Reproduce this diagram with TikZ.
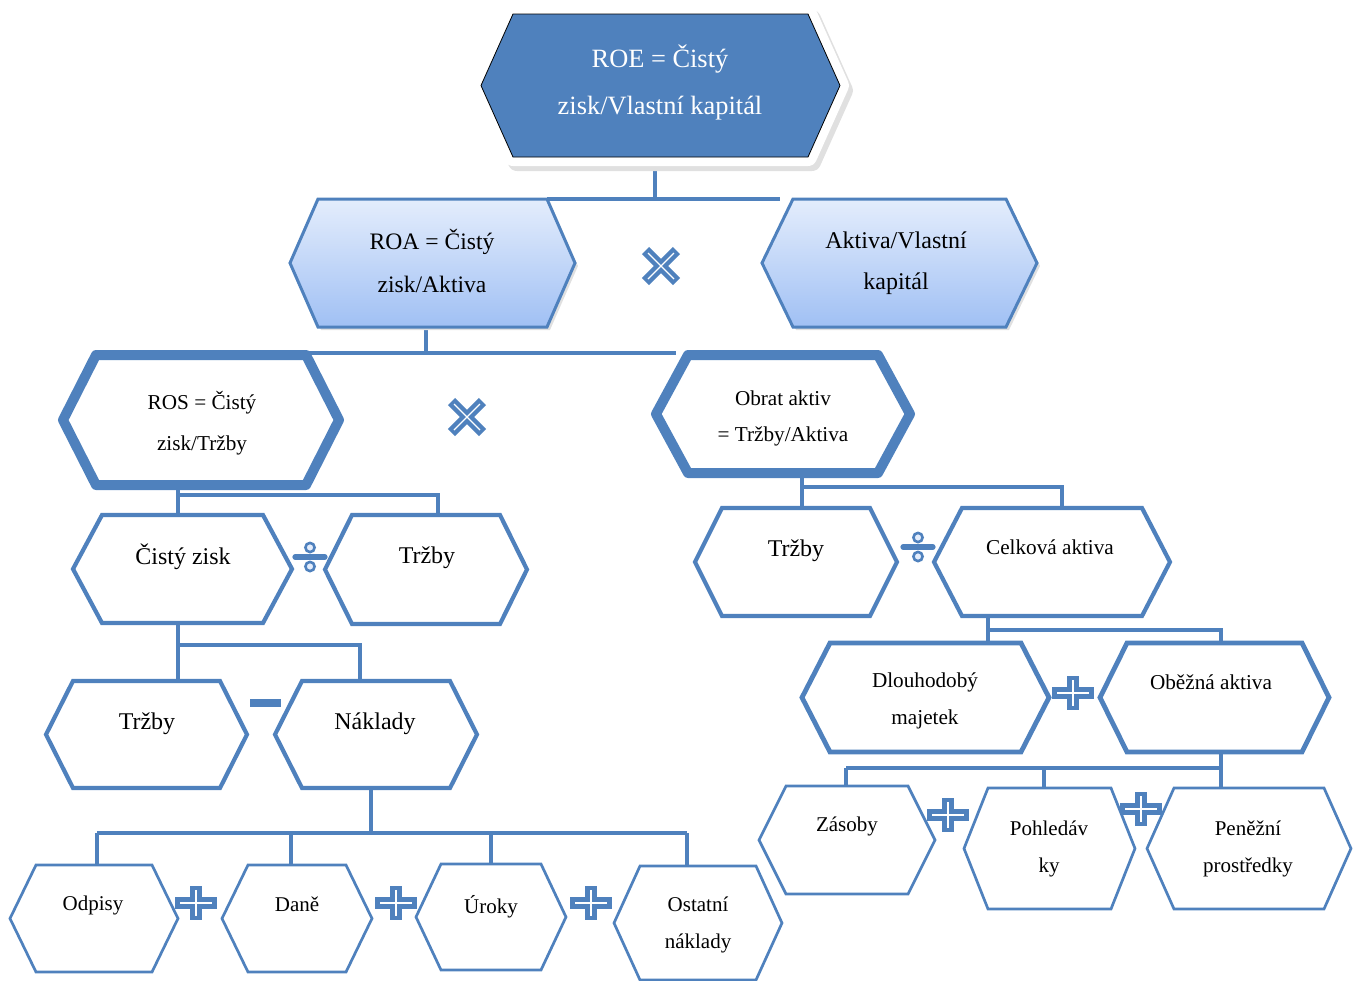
\documentclass[tikz,border=0pt]{standalone}
\usepackage{fontspec}
\setmainfont{Liberation Serif}
\usetikzlibrary{calc}
\definecolor{hexblue}{RGB}{79,129,189}
\definecolor{roatop}{RGB}{228,237,252}
\definecolor{roabot}{RGB}{160,192,244}

% hexagon drawn round an (empty) box node: [style]{node}{inset in px}
\newcommand{\hexa}[3][]{%
  \draw[#1] (#2.west) -- ([xshift=#3*0.5pt]#2.north west) -- ([xshift=-#3*0.5pt]#2.north east)
    -- (#2.east) -- ([xshift=-#3*0.5pt]#2.south east) -- ([xshift=#3*0.5pt]#2.south west) -- cycle;}
% operators
\newcommand{\plusop}[2]{%
  \draw[opbar] ({#1-21},#2) -- ({#1+21},#2) (#1,{#2-17}) -- (#1,{#2+17});
  \draw[opline] ({#1-16},#2) -- ({#1+16},#2) (#1,{#2-13}) -- (#1,{#2+13});}
\newcommand{\timesop}[2]{%
  \draw[opbar, line width=5pt] ({#1-15.5},{#2-15.5}) -- ({#1+15.5},{#2+15.5}) ({#1-15.5},{#2+15.5}) -- ({#1+15.5},{#2-15.5});
  \draw[opline] ({#1-13},{#2-13}) -- ({#1+13},{#2+13}) ({#1-13},{#2+13}) -- ({#1+13},{#2-13});}
\newcommand{\divop}[2]{%
  \draw[hexblue, line width=2.6pt, line cap=round] ({#1-15},#2) -- ({#1+15},#2);
  \filldraw[hexblue, fill=roatop, line width=1.3pt] (#1,{#2-9.5}) circle (2.3pt) (#1,{#2+9.5}) circle (2.3pt);}

\begin{document}
\begin{tikzpicture}[x=0.5pt, y=-0.5pt,
  box/.style 2 args={inner sep=0pt, outer sep=0pt, minimum width=#1*0.5pt, minimum height=#2*0.5pt},
  txt/.style={align=center, inner sep=0pt},
  link/.style={hexblue, line width=1.8pt},
  opbar/.style={hexblue, line width=5.8pt},
  opline/.style={white, line width=0.6pt},
  roeshape/.style={fill=hexblue,
    preaction={fill=black!12, draw=black!12, line width=9pt, line join=round, transform canvas={shift={(2pt,-2.5pt)}}},
    preaction={draw=white, line width=9pt, line join=round}},
  roashape/.style={draw=hexblue, line width=1.5pt, top color=roatop, bottom color=roabot,
    preaction={fill=black!12, transform canvas={shift={(1.5pt,-1.5pt)}}}},
  thickshape/.style={draw=hexblue, fill=white, line width=5pt, line join=round},
  midshape/.style={draw=hexblue, fill=white, line width=2.1pt},
  dlshape/.style={draw=hexblue, fill=white, line width=2.4pt},
  smallshape/.style={draw=hexblue, fill=white, line width=1.35pt}]
  \useasboundingbox (0,0) rectangle (1357,981);

  % nodes (boxes)
  \node[box={359}{143}] (roe) at (660.5,85.5) {};
  \node[box={285}{128}] (roa) at (432.5,263) {};
  \node[box={275}{128}] (akvk) at (899.5,263) {};
  \node[box={276}{130}] (ros) at (201,420) {};
  \node[box={254}{118}] (obrat) at (783,414) {};
  \node[box={219}{108}] (zisk) at (182.5,569) {};
  \node[box={202}{109}] (trzbyA) at (426,569.5) {};
  \node[box={201}{107}] (trzbyB) at (146.5,734.5) {};
  \node[box={202}{107}] (naklady) at (376,734.5) {};
  \node[box={168}{107}] (odpisy) at (94,918.5) {};
  \node[box={150}{107}] (dane) at (297,918.5) {};
  \node[box={150}{106}] (uroky) at (491,917) {};
  \node[box={168}{114}] (ostatni) at (698,923) {};
  \node[box={202}{108}] (trzbyC) at (796,562) {};
  \node[box={236}{108}] (aktiva) at (1052,562) {};
  \node[box={247}{109}] (dlouh) at (925.5,697.5) {};
  \node[box={229}{109}] (obezna) at (1214.5,697.5) {};
  \node[box={176}{108}] (zasoby) at (847,840) {};
  \node[box={171}{121}] (pohl) at (1049.5,848.5) {};
  \node[box={204}{121}] (penize) at (1249,848.5) {};

  % edges
  \draw[link] (roe.south -| 655,0) -- (655,199);
  \draw[link] ([xshift=-14pt]roa.north east) -- (roa.north east -| 780,0);
  \draw[link] (roa.south -| 426,0) -- (426,353);
  \draw[link] (300,353) -- (676,353);
  \draw[link] (ros.south -| 178,0) |- (438,495) -- (trzbyA.north -| 438,0);
  \draw[link] (178,495) -- (zisk.north -| 178,0);
  \draw[link] (obrat.south -| 802,0) |- (1062,487) -- (aktiva.north -| 1062,0);
  \draw[link] (802,487) -- (trzbyC.north -| 802,0);
  \draw[link] (zisk.south -| 178,0) -- (trzbyB.north -| 178,0);
  \draw[link] (178,645) -| (naklady.north -| 360,0);
  \draw[link] (naklady.south -| 371,0) -- (371,833);
  \draw[link] (97,833) -- (687,833);
  \foreach \n/\x in {odpisy/97, dane/291, uroky/491, ostatni/687}
    {\draw[link] (\x,833) -- (\n.north -| \x,0);}
  \draw[link] (aktiva.south -| 988,0) |- (1221,630) -- (obezna.north -| 1221,0);
  \draw[link] (988,630) -- (dlouh.north -| 988,0);
  \draw[link] (obezna.south -| 1221,0) -- (1221,768);
  \draw[link] (846,768) -- (1221,768);
  \foreach \n/\x in {zasoby/846, pohl/1044, penize/1221}
    {\draw[link] (\x,768) -- (\n.north -| \x,0);}

  % hexagons
  \hexa[roeshape]{roe}{32}
  \hexa[roashape]{roa}{28}
  \hexa[roashape]{akvk}{31}
  \hexa[thickshape]{ros}{33}
  \hexa[thickshape]{obrat}{32}
  \foreach \n/\i in {zisk/29, trzbyA/27, trzbyB/27, naklady/27, trzbyC/27, aktiva/28}
    {\hexa[midshape]{\n}{\i}}
  \hexa[dlshape]{dlouh}{28}
  \hexa[dlshape]{obezna}{27}
  \foreach \n/\i in {odpisy/26, dane/26, uroky/25, ostatni/26, zasoby/27, pohl/24, penize/27}
    {\hexa[smallshape]{\n}{\i}}

  % texts
  \node[txt, text=white, font=\fontsize{13.2pt}{23.5pt}\selectfont] (roe-t) at (660,82.5) {ROE = Čistý\\zisk/Vlastní kapitál};
  \node[txt, font=\fontsize{11.8pt}{21.5pt}\selectfont] (roa-t) at (432,261) {ROA = Čistý\\zisk/Aktiva};
  \node[txt, font=\fontsize{12pt}{20.5pt}\selectfont] (akvk-t) at (896,263.5) {Aktiva/Vlastní\\kapitál};
  \node[txt, font=\fontsize{10.6pt}{20.5pt}\selectfont] (ros-t) at (202,423.5) {ROS = Čistý\\zisk/Tržby};
  \node[txt, font=\fontsize{10.6pt}{18pt}\selectfont] (obrat-t) at (783,418) {Obrat aktiv\\= Tržby/Aktiva};
  \node[txt, font=\fontsize{12pt}{14pt}\selectfont] (zisk-t) at (183,557) {Čistý zisk};
  \node[txt, font=\fontsize{12pt}{14pt}\selectfont] (trzbyA-t) at (427,558) {Tržby};
  \node[txt, font=\fontsize{12pt}{14pt}\selectfont] (trzbyB-t) at (147,724) {Tržby};
  \node[txt, font=\fontsize{12pt}{14pt}\selectfont] (naklady-t) at (375,724) {Náklady};
  \node[txt, font=\fontsize{12pt}{14pt}\selectfont] (trzbyC-t) at (796,551) {Tržby};
  \node[txt, font=\fontsize{10.6pt}{18.5pt}\selectfont] (aktiva-t) at (1050,547) {Celková aktiva};
  \node[txt, font=\fontsize{10.6pt}{18.5pt}\selectfont] (dlouh-t) at (925,701) {Dlouhodobý\\majetek};
  \node[txt, font=\fontsize{10.6pt}{18.5pt}\selectfont] (obezna-t) at (1211,682) {Oběžná aktiva};
  \node[txt, font=\fontsize{10.5pt}{18.5pt}\selectfont] (odpisy-t) at (93,905) {Odpisy};
  \node[txt, font=\fontsize{10.5pt}{18.5pt}\selectfont] (dane-t) at (297,904) {Daně};
  \node[txt, font=\fontsize{10.5pt}{18.5pt}\selectfont] (uroky-t) at (491,907) {Úroky};
  \node[txt, font=\fontsize{10.5pt}{18.5pt}\selectfont] (ostatni-t) at (698,924.5) {Ostatní\\náklady};
  \node[txt, font=\fontsize{10.5pt}{18.5pt}\selectfont] (zasoby-t) at (847,826) {Zásoby};
  \node[txt, font=\fontsize{10.5pt}{18.5pt}\selectfont] (pohl-t) at (1049,849) {Pohledáv\\ky};
  \node[txt, font=\fontsize{10.5pt}{18.5pt}\selectfont] (penize-t) at (1248,849) {Peněžní\\prostředky};

  % operators
  \timesop{661}{266}
  \timesop{467}{417}
  \divop{310}{557}
  \divop{918}{547}
  \draw[hexblue, line width=4pt] (250,703) -- (281,703);
  \plusop{1073}{693}
  \plusop{196}{903}
  \plusop{396}{903}
  \plusop{591}{903}
  \plusop{948}{815}
  \plusop{1141}{809}
\end{tikzpicture}
\end{document}
